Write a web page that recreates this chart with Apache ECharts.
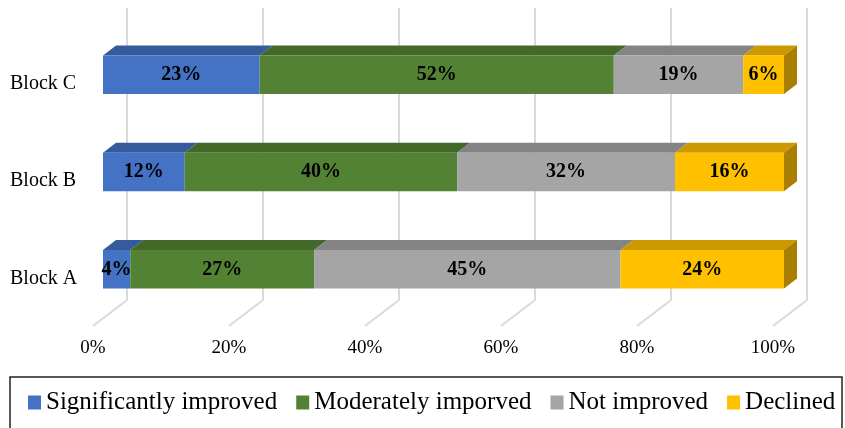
<!DOCTYPE html>
<html>
<head>
<meta charset="utf-8">
<script src="https://cdn.jsdelivr.net/npm/echarts@6/dist/echarts.min.js"></script>
<style>
  html, body { margin: 0; padding: 0; background: #fff; }
  #chart { width: 845px; height: 428px; }
</style>
</head>
<body>
<div id="chart"></div>
<script>
// Survey outcome shares per block (percent)
const categories = ['Block A', 'Block B', 'Block C'];
const seriesNames = ['Significantly improved', 'Moderately imporved', 'Not improved', 'Declined'];
const significantlyImproved = [4, 12, 23];
const moderatelyImproved = [27, 40, 52];
const notImproved = [45, 32, 19];
const declined = [24, 16, 6];
const tickValues = [0, 20, 40, 60, 80, 100];

const seriesValues = [significantlyImproved, moderatelyImproved, notImproved, declined];
const frontColors = ['#4472C4', '#548235', '#A5A5A5', '#FFC000'];

const FONT = '"Liberation Serif", "Times New Roman", serif';
const DEPTH_X = 13, DEPTH_Y = 10;   // pseudo-3D extrusion of the bars
const FLOOR_X = 34, FLOOR_Y = 26;   // floor depth from front edge to back wall
const GRID_COLOR = '#D9D9D9';

function shade(hex, f) {
  const n = parseInt(hex.slice(1), 16);
  const r = Math.round(((n >> 16) & 255) * f);
  const g = Math.round(((n >> 8) & 255) * f);
  const b = Math.round((n & 255) * f);
  return 'rgb(' + r + ',' + g + ',' + b + ')';
}

// cumulative start/end per segment
const stacked = seriesValues.map(() => []);
categories.forEach((c, i) => {
  let acc = 0;
  seriesValues.forEach((vals, s) => {
    stacked[s].push([acc, acc + vals[i], i, vals[i]]);
    acc += vals[i];
  });
});

function barRenderer(sIdx) {
  const isLast = sIdx === seriesValues.length - 1;
  return function (params, api) {
    const x0 = api.coord([api.value(0), api.value(2)]);
    const x1 = api.coord([api.value(1), api.value(2)]);
    const h = api.size([0, 1])[1] * 0.395;
    const left = x0[0], right = x1[0];
    const top = x0[1] - h / 2, bottom = x0[1] + h / 2;
    const front = api.visual('color');
    const children = [
      {
        type: 'polygon',
        shape: { points: [[left, top], [left + DEPTH_X, top - DEPTH_Y], [right + DEPTH_X, top - DEPTH_Y], [right, top]] },
        style: { fill: shade(front, 0.8) }
      },
      {
        type: 'rect',
        shape: { x: left, y: top, width: right - left, height: bottom - top },
        style: { fill: front }
      }
    ];
    if (isLast) {
      children.push({
        type: 'polygon',
        shape: { points: [[right, top], [right + DEPTH_X, top - DEPTH_Y], [right + DEPTH_X, bottom - DEPTH_Y], [right, bottom]] },
        style: { fill: shade(front, 0.66) }
      });
    }
    children.push({
      type: 'text',
      style: {
        text: api.value(3) + '%',
        x: (left + right) / 2,
        y: x0[1],
        align: 'center',
        verticalAlign: 'middle',
        fill: '#000',
        font: 'bold 20px ' + FONT
      }
    });
    return { type: 'group', children: children };
  };
}

const barSeries = seriesNames.map((name, s) => ({
  name: name,
  type: 'custom',
  xAxisIndex: 0,
  yAxisIndex: 0,
  z: 10,
  itemStyle: { color: frontColors[s] },
  encode: { x: [0, 1], y: 2 },
  renderItem: barRenderer(s),
  data: stacked[s]
}));

// floor lines running from the front edge back to the wall gridlines
const floorSeries = {
  type: 'custom',
  xAxisIndex: 2,
  yAxisIndex: 2,
  silent: true,
  z: 1,
  encode: { x: 0 },
  renderItem: function (params, api) {
    const p = api.coord([api.value(0), 0]);
    return {
      type: 'line',
      shape: { x1: p[0], y1: p[1], x2: p[0] + FLOOR_X, y2: p[1] - FLOOR_Y },
      style: { stroke: GRID_COLOR, lineWidth: 2 }
    };
  },
  data: tickValues.map(v => [v])
};

const chart = echarts.init(document.getElementById('chart'));
chart.setOption({
  animation: false,
  backgroundColor: '#fff',
  grid: [
    { left: 103, right: 61, top: 26, bottom: 110 },   // bar fronts
    { left: 127, right: 38, top: 8, bottom: 128 },    // back wall
    { left: 93, right: 72, top: 200, bottom: 102 }    // floor front edge
  ],
  xAxis: [
    { gridIndex: 0, type: 'value', min: 0, max: 100, interval: 20, show: false },
    {
      gridIndex: 1, type: 'value', min: 0, max: 100, interval: 20,
      axisLine: { show: false }, axisTick: { show: false }, axisLabel: { show: false },
      splitLine: { show: true, lineStyle: { color: GRID_COLOR, width: 2 } }
    },
    {
      gridIndex: 2, type: 'value', min: 0, max: 100, interval: 20,
      axisLine: { show: false }, axisTick: { show: false }, splitLine: { show: false },
      axisLabel: { formatter: '{value}%', margin: 13, color: '#000', fontSize: 19, fontFamily: FONT }
    }
  ],
  yAxis: [
    {
      gridIndex: 0, type: 'category', data: categories,
      axisLine: { show: false }, axisTick: { show: false }, splitLine: { show: false },
      axisLabel: {
        align: 'left', verticalAlign: 'top', lineHeight: 18, margin: 93,
        color: '#000', fontSize: 20, fontFamily: FONT
      }
    },
    { gridIndex: 1, type: 'value', min: 0, max: 1, show: false },
    { gridIndex: 2, type: 'value', min: 0, max: 1, show: false }
  ],
  legend: {
    data: seriesNames,
    left: 28,
    top: 390,
    padding: 0,
    icon: 'rect',
    itemWidth: 13,
    itemHeight: 14,
    itemGap: 19,
    textStyle: { color: '#000', fontSize: 25, fontFamily: FONT },
    selectedMode: false
  },
  graphic: [
    {
      type: 'rect',
      shape: { x: 10, y: 377, width: 832, height: 70 },
      style: { fill: 'none', stroke: '#222', lineWidth: 1.5 },
      z: 0
    }
  ],
  series: barSeries.concat([floorSeries])
});
</script>
</body>
</html>
